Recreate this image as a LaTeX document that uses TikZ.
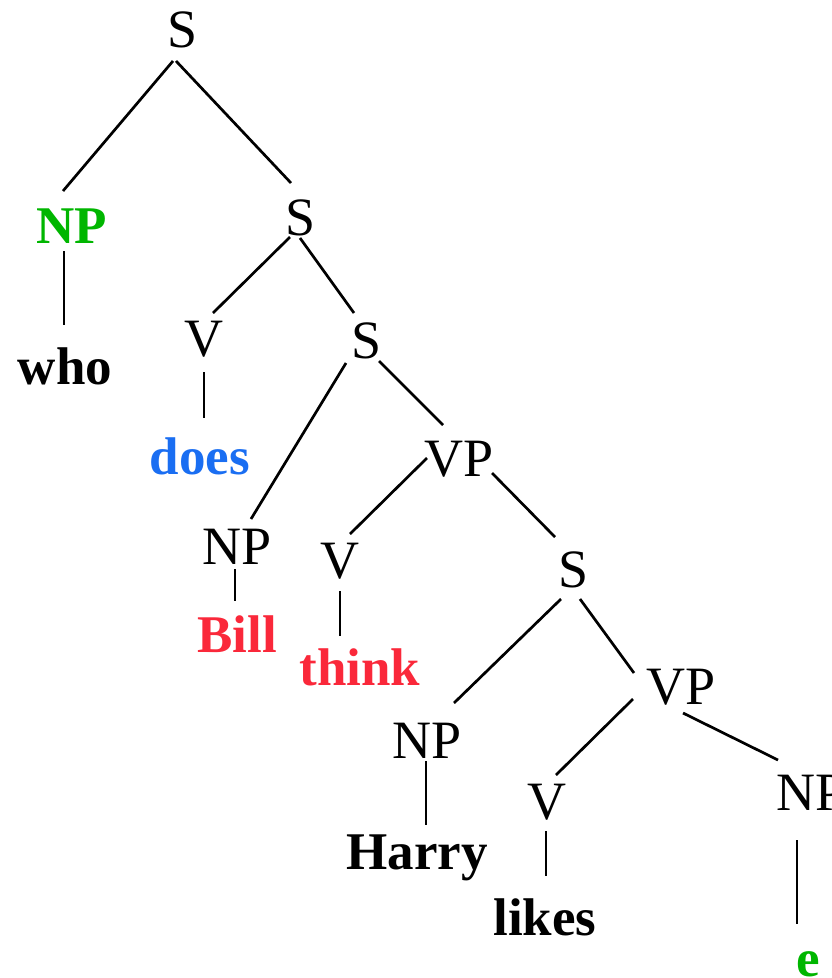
\documentclass[tikz,border=0pt]{standalone}
\usepackage{fontspec}
\setmainfont{Liberation Serif}
\definecolor{tracegreen}{RGB}{0,182,0}
\definecolor{auxblue}{RGB}{26,110,242}
\definecolor{verbred}{RGB}{250,40,58}
\begin{document}
\begin{tikzpicture}[x=1pt,y=-1pt,
  cat/.style={anchor=base,inner sep=0pt,font=\fontsize{54}{60}\selectfont},
  word/.style={anchor=base,inner sep=0pt,font=\fontsize{53}{60}\selectfont\bfseries},
  branch/.style={line width=2.7pt,draw=black}]
\useasboundingbox (0,0) rectangle (832,978);

% categories
\node[cat] (s1)  at (182.5,47)  {S};
\node[cat,font=\fontsize{53}{60}\selectfont\bfseries,text=tracegreen] (npw) at (71.5,243) {NP};
\node[cat] (s2)  at (301,235)   {S};
\node[cat] (v1)  at (204,356)   {V};
\node[cat] (s3)  at (366.5,358) {S};
\node[cat] (vp1) at (459.5,476) {VP};
\node[cat] (npb) at (237.5,564) {NP};
\node[cat] (v2)  at (340,578)   {V};
\node[cat] (s4)  at (573.5,587) {S};
\node[cat] (nph) at (427.5,758) {NP};
\node[cat] (vp2) at (681,704)   {VP};
\node[cat] (v3)  at (547,819)   {V};
\node[cat] (npe) at (811,810)   {NP};

% words
\node[word] (who)   at (65,384)  {who};
\node[word,text=auxblue] (does) at (200,474) {does};
\node[word,text=verbred] (bill)  at (237,652) {Bill};
\node[word,text=verbred] (think) at (360,685) {think};
\node[word] (harry) at (417,869) {Harry};
\node[word] (likes) at (545,935) {likes};
\node[word,text=tracegreen] (e) at (808,976) {e};

% branches
\draw[branch] ([shift={(-9.5,14)}]s1.base)  -- ([shift={(-8.5,-52)}]npw.base);
\draw[branch] ([shift={(-6.5,14)}]s1.base)  -- ([shift={(-10,-52)}]s2.base);
\draw[branch] ([shift={(-7.5,8)}]npw.base)  -- ([shift={(-1,-59)}]who.base);
\draw[branch] ([shift={(-11,2)}]s2.base)    -- ([shift={(9,-43)}]v1.base);
\draw[branch] ([shift={(-1,3)}]s2.base)     -- ([shift={(-12.5,-45)}]s3.base);
\draw[branch] ([shift={(0,16)}]v1.base)     -- ([shift={(4,-56)}]does.base);
\draw[branch] ([shift={(-20.5,5)}]s3.base)  -- ([shift={(13.5,-45)}]npb.base);
\draw[branch] ([shift={(12.5,3)}]s3.base)   -- ([shift={(-16.5,-51)}]vp1.base);
\draw[branch] ([shift={(-2.5,5)}]npb.base)  -- ([shift={(-2,-51)}]bill.base);
\draw[branch] ([shift={(-32.5,-18)}]vp1.base) -- ([shift={(10,-44)}]v2.base);
\draw[branch] ([shift={(32.5,-3)}]vp1.base) -- ([shift={(-18.5,-50)}]s4.base);
\draw[branch] ([shift={(0,13)}]v2.base)     -- ([shift={(-20,-49)}]think.base);
\draw[branch] ([shift={(-12.5,12)}]s4.base) -- ([shift={(26.5,-55)}]nph.base);
\draw[branch] ([shift={(6.5,12)}]s4.base)   -- ([shift={(-47,-31)}]vp2.base);
\draw[branch] ([shift={(-1.5,3)}]nph.base)  -- ([shift={(9,-44)}]harry.base);
\draw[branch] ([shift={(-48,-5)}]vp2.base)  -- ([shift={(9,-44)}]v3.base);
\draw[branch] ([shift={(2,9)}]vp2.base)     -- ([shift={(-33,-50)}]npe.base);
\draw[branch] ([shift={(-1,12)}]v3.base)    -- ([shift={(1,-59)}]likes.base);
\draw[branch] ([shift={(-14,30)}]npe.base)  -- ([shift={(-11,-52)}]e.base);
\end{tikzpicture}
\end{document}
